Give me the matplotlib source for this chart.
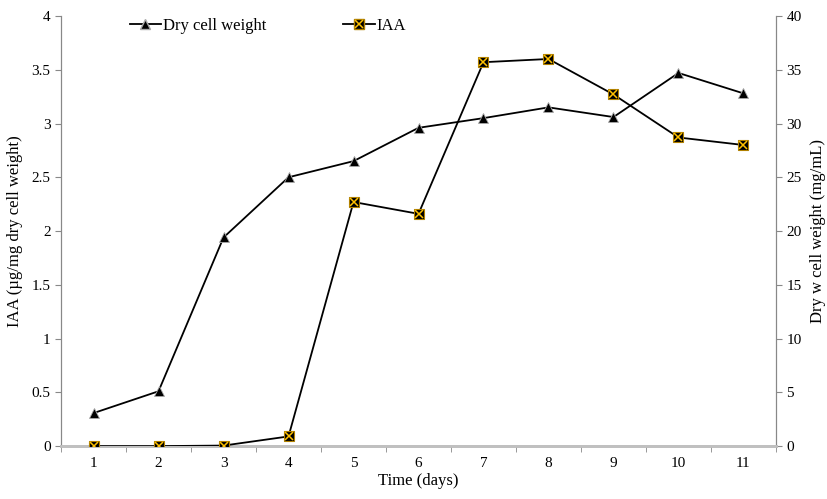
import numpy as np
import matplotlib as mpl
mpl.rcParams['font.family'] = 'Liberation Serif'
import matplotlib.pyplot as plt
from matplotlib.lines import Line2D

days = [1, 2, 3, 4, 5, 6, 7, 8, 9, 10, 11]
iaa = [0.0, 0.0, 0.005, 0.09, 2.27, 2.16, 3.57, 3.60, 3.27, 2.87, 2.80]
dcw = [3.07, 5.1, 19.4, 25.0, 26.5, 29.6, 30.5, 31.5, 30.6, 34.7, 32.8]

gold = '#E8A800'
axcol = '#888888'
fs = 11

fig = plt.figure(figsize=(8.27, 4.99), dpi=100, facecolor='w')
ax1 = fig.add_axes([0.0738, 0.106, 0.8645, 0.862])
ax2 = ax1.twinx()

# dry cell weight on right axis
ax2.plot(days, dcw, color='black', lw=1.3, marker='^', ms=7,
         mfc='black', mec='#aaaaaa', mew=0.6, zorder=3)
# IAA on left axis
ax1.plot(days, iaa, color='black', lw=1.3, marker='s', ms=7,
         mfc='black', mec='#b08000', mew=0.8, zorder=3)
ax1.plot(days, iaa, ls='none', marker='x', ms=5.5, mec='#FFC000', mew=1.1, zorder=4)
ax1.set_zorder(ax2.get_zorder() + 1)
ax1.patch.set_visible(False)

ax1.set_xlim(0.5, 11.5)
ax1.set_ylim(0, 4)
ax2.set_ylim(0, 40)
ax1.set_yticks(np.arange(0, 4.01, 0.5))
ax1.set_yticklabels(['0', '0.5', '1', '1.5', '2', '2.5', '3', '3.5', '4'])
ax2.set_yticks(np.arange(0, 41, 5))
ax1.set_xticks(days)
ax1.set_xticks(np.arange(0.5, 11.6, 1), minor=True)
ax1.tick_params(axis='x', which='major', length=0, labelsize=fs, pad=8)
ax1.tick_params(axis='x', which='minor', length=4, color=axcol, direction='out')
ax1.tick_params(axis='y', length=4, color=axcol, labelsize=fs, direction='out')
ax2.tick_params(axis='y', length=4, color=axcol, labelsize=fs, direction='out')

for ax in (ax1, ax2):
    ax.spines['top'].set_visible(False)
    ax.spines['left'].set_color(axcol)
    ax.spines['right'].set_color(axcol)
    ax.spines['bottom'].set_color('#c0c0c0')
    ax.spines['bottom'].set_linewidth(2)

ax1.set_xlabel('Time (days)', fontsize=fs + 1, labelpad=2)
ax1.set_ylabel('IAA (µg/mg dry cell weight)', fontsize=fs + 1, labelpad=6)
ax2.set_ylabel('Dry w cell weight (mg/mL)', fontsize=fs + 1, labelpad=6)

h1 = Line2D([], [], color='black', lw=1.3, marker='^', ms=7, mfc='black', mec='#aaaaaa')
h2 = (Line2D([], [], color='black', lw=1.3, marker='s', ms=7, mfc='black', mec='#b08000'),
      Line2D([], [], ls='none', marker='x', ms=5.5, mec='#FFC000', mew=1.1))
ax1.legend([h1, h2], ['Dry cell weight', 'IAA'], loc='upper left',
           bbox_to_anchor=(0.075, 1.03), ncol=2, frameon=False, fontsize=fs + 1,
           handlelength=1.9, handletextpad=0.1, columnspacing=4.6)

plt.savefig('out.png', dpi=100)
